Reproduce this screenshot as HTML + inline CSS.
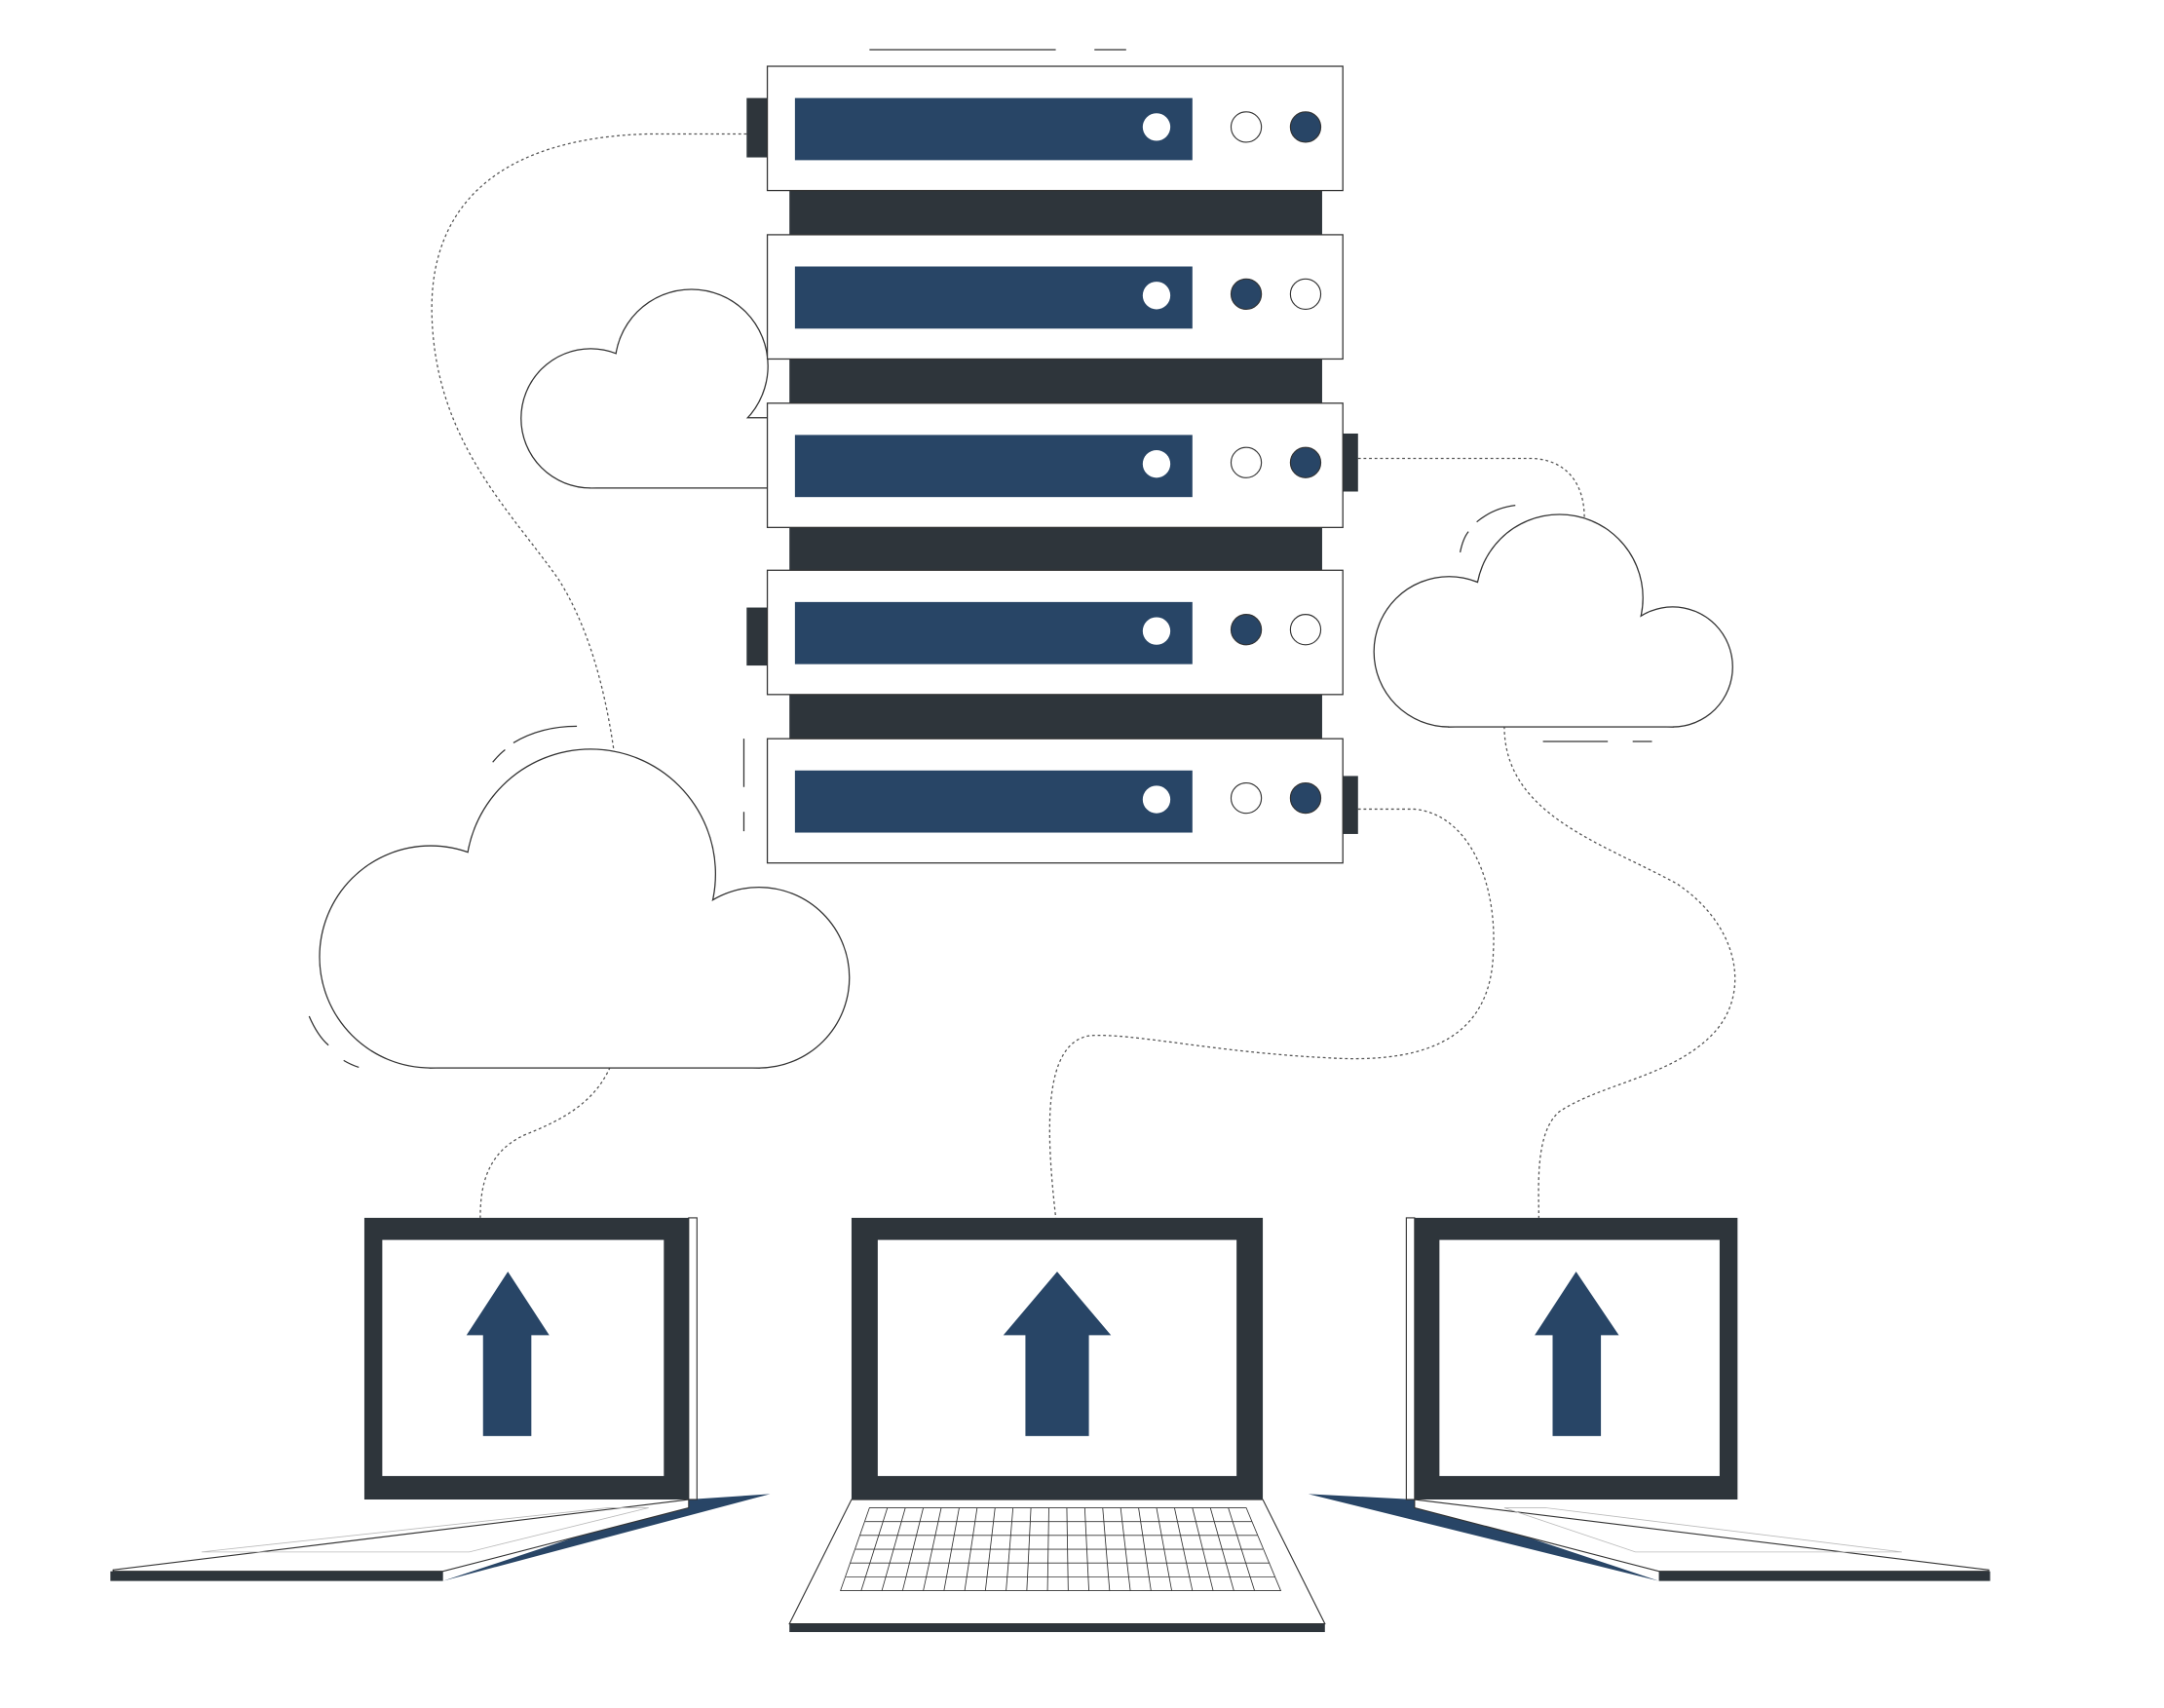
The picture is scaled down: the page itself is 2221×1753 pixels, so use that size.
<!DOCTYPE html>
<html><head><meta charset="utf-8"><style>html,body{margin:0;padding:0;background:#fff}svg{display:block}</style></head>
<body>
<svg width="2221" height="1753" viewBox="0 0 1568 1237" preserveAspectRatio="none" xmlns="http://www.w3.org/2000/svg">
<rect width="1568" height="1237" fill="#fff"/>
<g fill="none" stroke="#555" stroke-width="0.9" stroke-dasharray="2,2">
<path d="M541 97 L470 97 C360 100 310 150 313 230 C316 320 370 370 405 420 C430 460 440 510 445 545"/>
<path d="M984 332 L1110 332 C1135 333 1148 350 1148 375"/>
<path d="M1090 526 C1090 590 1160 610 1215 640 C1260 670 1270 720 1240 750 C1210 780 1160 785 1130 805 C1112 820 1115 860 1115 882"/>
<path d="M984 586 L1025 586 C1065 590 1085 640 1082 690 C1080 760 1020 770 960 766 C880 762 820 748 790 750 C755 755 758 820 765 882"/>
<path d="M442 773 C430 800 405 812 380 822 C352 835 348 860 348 882"/>
</g>
<g fill="none" stroke="#333" stroke-width="0.9">
<path d="M630 36 H765 M793 36 H816 M1118 537 H1165 M1183 537 H1197 M539 535 V570 M539 588 V602"/>
<path d="M357 552 Q362 546 366 543 M372 538 Q392 526 418 526"/>
<path d="M1058 400 Q1060 390 1064 385 M1070 378 Q1082 368 1098 366"/>
<path d="M224 736 Q230 750 238 757 M249 768 Q254 771 260 773"/>
</g>
<g stroke="#333" stroke-width="1.8" fill="#fff">
<circle cx="428" cy="303" r="50"/><circle cx="501" cy="265" r="55"/><rect x="428" y="303" width="140" height="50"/>
<circle cx="312" cy="693" r="80"/><circle cx="428" cy="633" r="90"/><circle cx="550" cy="708" r="65"/><rect x="312" y="693" width="238" height="80"/>
<circle cx="1050" cy="472" r="54"/><circle cx="1130" cy="433" r="60"/><circle cx="1212" cy="483" r="43"/><rect x="1050" y="472" width="162" height="54"/>
</g>
<g fill="#fff">
<circle cx="428" cy="303" r="50"/><circle cx="501" cy="265" r="55"/><rect x="428" y="303" width="140" height="50"/>
<circle cx="312" cy="693" r="80"/><circle cx="428" cy="633" r="90"/><circle cx="550" cy="708" r="65"/><rect x="312" y="693" width="238" height="80"/>
<circle cx="1050" cy="472" r="54"/><circle cx="1130" cy="433" r="60"/><circle cx="1212" cy="483" r="43"/><rect x="1050" y="472" width="162" height="54"/>
</g>
<rect x="572" y="138" width="386" height="400" fill="#2e353b"/>
<g fill="#2e353b">
<rect x="541" y="71" width="15" height="43"/><rect x="973" y="314" width="11" height="42"/>
<rect x="541" y="440" width="15" height="42"/><rect x="973" y="562" width="11" height="42"/>
</g>
<g id="u">
<rect x="556" y="48" width="417" height="90" fill="#fff" stroke="#333" stroke-width="0.9"/>
<rect x="576" y="71" width="288" height="45" fill="#284566"/>
<circle cx="838" cy="92" r="10" fill="#fff"/>
</g>
<use href="#u" y="122"/><use href="#u" y="244"/><use href="#u" y="365"/><use href="#u" y="487"/>
<g stroke="#333" stroke-width="0.8">
<circle cx="903" cy="92" r="11" fill="#fff"/><circle cx="946" cy="92" r="11" fill="#284566"/>
<circle cx="903" cy="213" r="11" fill="#284566"/><circle cx="946" cy="213" r="11" fill="#fff"/>
<circle cx="903" cy="335" r="11" fill="#fff"/><circle cx="946" cy="335" r="11" fill="#284566"/>
<circle cx="903" cy="456" r="11" fill="#284566"/><circle cx="946" cy="456" r="11" fill="#fff"/>
<circle cx="903" cy="578" r="11" fill="#fff"/><circle cx="946" cy="578" r="11" fill="#284566"/>
</g>
<!-- left laptop -->
<polygon points="499,1086 558,1082 321,1145" fill="#284566"/>
<polygon points="499,1086 499,1092 321,1138 82,1138 82,1137" fill="#fff" stroke="#333" stroke-width="0.8"/>
<polygon points="440,1092 470,1092 340,1124 146,1124" fill="none" stroke="#bbb" stroke-width="0.6"/>
<rect x="80" y="1138" width="241" height="7" fill="#2e353b"/>
<rect x="499" y="882" width="6" height="204" fill="#fff" stroke="#333" stroke-width="0.8"/>
<rect x="264" y="882" width="235" height="204" fill="#2e353b"/>
<rect x="277" y="898" width="204" height="171" fill="#fff"/>
<polygon points="368,921 338,967 350,967 350,1040 385,1040 385,967 398,967" fill="#284566"/>
<!-- middle laptop -->
<polygon points="617,1086 915,1086 960,1176 572,1176" fill="#fff" stroke="#333" stroke-width="0.8"/>
<rect x="572" y="1176" width="388" height="6" fill="#2e353b"/>
<g stroke="#333" stroke-width="0.6" fill="none">
<polygon points="630,1092 903,1092 928,1152 609,1152"/>
<path d="M627 1102 H907 M623 1112 H911 M620 1122 H915 M616 1132 H920 M613 1142 H924"/>
<path d="M643 1092 L624 1152 M656 1092 L639 1152 M669 1092 L654 1152 M682 1092 L669 1152 M695 1092 L684 1152 M708 1092 L699 1152 M721 1092 L714 1152 M734 1092 L729 1152 M747 1092 L744 1152 M760 1092 L759 1152 M773 1092 L774 1152 M786 1092 L789 1152 M799 1092 L804 1152 M812 1092 L819 1152 M825 1092 L834 1152 M838 1092 L849 1152 M851 1092 L864 1152 M864 1092 L879 1152 M877 1092 L894 1152 M890 1092 L909 1152"/>
</g>
<rect x="617" y="882" width="298" height="204" fill="#2e353b"/>
<rect x="636" y="898" width="260" height="171" fill="#fff"/>
<polygon points="766,921 727,967 743,967 743,1040 789,1040 789,967 805,967" fill="#284566"/>
<!-- right laptop -->
<polygon points="1025,1086 948,1082 1202,1145" fill="#284566"/>
<polygon points="1025,1086 1025,1092 1202,1138 1441,1138 1441,1137" fill="#fff" stroke="#333" stroke-width="0.8"/>
<polygon points="1090,1092 1120,1092 1378,1124 1185,1124" fill="none" stroke="#bbb" stroke-width="0.6"/>
<rect x="1202" y="1138" width="240" height="7" fill="#2e353b"/>
<rect x="1019" y="882" width="6" height="204" fill="#fff" stroke="#333" stroke-width="0.8"/>
<rect x="1025" y="882" width="234" height="204" fill="#2e353b"/>
<rect x="1043" y="898" width="203" height="171" fill="#fff"/>
<polygon points="1142,921 1112,967 1125,967 1125,1040 1160,1040 1160,967 1173,967" fill="#284566"/>
</svg>
</body></html>
